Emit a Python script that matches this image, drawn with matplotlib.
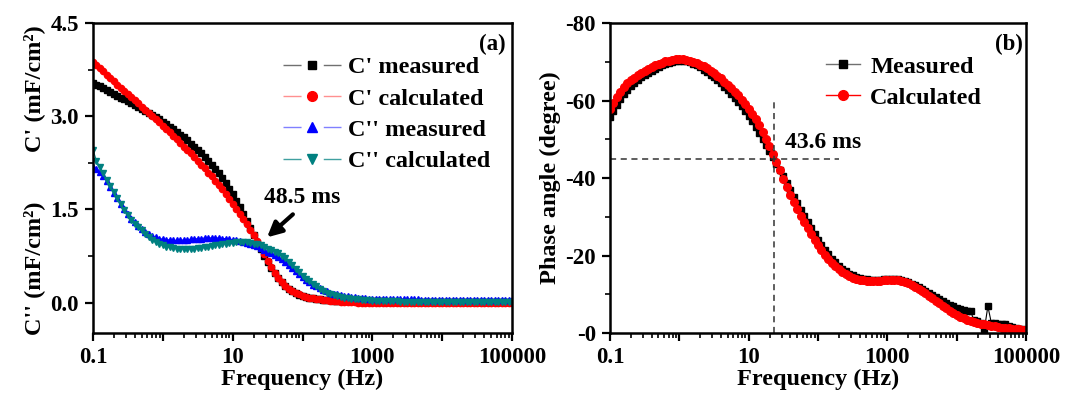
import matplotlib.pyplot as plt
import numpy as np
from matplotlib.lines import Line2D
from matplotlib.ticker import LogLocator, NullFormatter, MultipleLocator

plt.rcParams['font.family'] = ['Liberation Serif', 'DejaVu Serif']
plt.rcParams['font.weight'] = 'bold'
plt.rcParams['axes.labelweight'] = 'bold'

# measurement frequencies, 20 points per decade, 0.1 Hz .. 100 kHz
freq = np.logspace(-1, 5, 121)

# (a) real / imaginary capacitance, mF/cm2
c1_meas = [3.53, 3.51, 3.48, 3.45, 3.42, 3.39, 3.36, 3.33, 3.30, 3.27,
           3.24, 3.21, 3.18, 3.15, 3.12, 3.09, 3.05, 3.02, 2.98, 2.95,
           2.91, 2.87, 2.83, 2.79, 2.75, 2.70, 2.66, 2.61, 2.56, 2.51,
           2.46, 2.40, 2.34, 2.28, 2.22, 2.15, 2.08, 2.00, 1.92, 1.83,
           1.74, 1.64, 1.54, 1.43, 1.32, 1.20, 1.08, 0.96, 0.86, 0.75,
           0.65, 0.56, 0.47, 0.40, 0.33, 0.27, 0.22, 0.18, 0.15, 0.12,
           0.10, 0.09, 0.08, 0.07, 0.06, 0.05, 0.045, 0.04, 0.035, 0.03,
           0.03, 0.03, 0.025, 0.025, 0.025, 0.02, 0.02, 0.02, 0.02, 0.02,
           0.02, 0.02, 0.02, 0.02, 0.015, 0.015, 0.015, 0.015, 0.015, 0.015,
           0.015, 0.015, 0.01, 0.01, 0.01, 0.01, 0.01, 0.01, 0.01, 0.01,
           0.01, 0.01, 0.01, 0.01, 0.01, 0.01, 0.01, 0.01, 0.01, 0.01,
           0.01, 0.01, 0.01, 0.01, 0.01, 0.01, 0.01, 0.01, 0.01, 0.01,
           0.01]
c1_calc = [3.87, 3.82, 3.77, 3.72, 3.67, 3.62, 3.56, 3.51, 3.46, 3.41,
           3.36, 3.31, 3.26, 3.21, 3.15, 3.10, 3.05, 3.00, 2.95, 2.90,
           2.85, 2.79, 2.74, 2.68, 2.63, 2.57, 2.51, 2.46, 2.40, 2.34,
           2.28, 2.22, 2.16, 2.09, 2.03, 1.96, 1.89, 1.82, 1.75, 1.67,
           1.58, 1.50, 1.42, 1.34, 1.26, 1.17, 1.08, 0.99, 0.89, 0.78,
           0.67, 0.57, 0.48, 0.40, 0.33, 0.27, 0.22, 0.18, 0.15, 0.13,
           0.11, 0.09, 0.08, 0.07, 0.06, 0.05, 0.04, 0.035, 0.03, 0.025,
           0.02, 0.015, 0.01, 0.01, 0.005, 0.005, 0.0, 0.0, 0.0, 0.0,
           0.0, 0.0, 0.0, 0.0, 0.0, 0.0, 0.0, 0.0, 0.0, 0.0,
           -0.005, -0.005, -0.005, -0.005, -0.005, -0.005, -0.005, -0.005, -0.005, -0.005,
           -0.01, -0.01, -0.01, -0.01, -0.01, -0.01, -0.01, -0.01, -0.01, -0.01,
           -0.01, -0.01, -0.01, -0.01, -0.01, -0.01, -0.01, -0.01, -0.01, -0.01,
           -0.01]
c2_meas = [2.19, 2.15, 2.10, 2.03, 1.95, 1.86, 1.77, 1.68, 1.59, 1.50,
           1.42, 1.35, 1.29, 1.23, 1.18, 1.14, 1.10, 1.07, 1.05, 1.03,
           1.02, 1.01, 1.01, 1.00, 1.00, 1.00, 1.01, 1.01, 1.02, 1.02,
           1.03, 1.03, 1.04, 1.04, 1.04, 1.04, 1.04, 1.03, 1.03, 1.02,
           1.01, 1.00, 0.99, 0.98, 0.96, 0.94, 0.93, 0.91, 0.88, 0.85,
           0.82, 0.79, 0.76, 0.73, 0.70, 0.66, 0.61, 0.56, 0.51, 0.46,
           0.41, 0.37, 0.33, 0.29, 0.26, 0.23, 0.20, 0.18, 0.16, 0.14,
           0.13, 0.12, 0.11, 0.10, 0.09, 0.085, 0.08, 0.075, 0.07, 0.065,
           0.06, 0.06, 0.06, 0.055, 0.055, 0.055, 0.055, 0.05, 0.05, 0.05,
           0.05, 0.05, 0.05, 0.05, 0.045, 0.045, 0.045, 0.045, 0.045, 0.045,
           0.045, 0.045, 0.04, 0.04, 0.04, 0.04, 0.04, 0.04, 0.04, 0.04,
           0.04, 0.04, 0.04, 0.04, 0.04, 0.04, 0.04, 0.04, 0.04, 0.04,
           0.04]
c2_calc = [2.46, 2.28, 2.18, 2.08, 1.98, 1.88, 1.78, 1.68, 1.58, 1.49,
           1.41, 1.33, 1.27, 1.21, 1.16, 1.11, 1.06, 1.01, 0.97, 0.94,
           0.92, 0.90, 0.89, 0.88, 0.87, 0.87, 0.87, 0.87, 0.87, 0.87,
           0.88, 0.88, 0.89, 0.90, 0.91, 0.92, 0.93, 0.94, 0.95, 0.96,
           0.96, 0.97, 0.97, 0.97, 0.97, 0.96, 0.95, 0.94, 0.92, 0.90,
           0.87, 0.85, 0.82, 0.79, 0.75, 0.71, 0.66, 0.60, 0.54, 0.49,
           0.43, 0.38, 0.34, 0.30, 0.26, 0.22, 0.19, 0.16, 0.14, 0.12,
           0.10, 0.09, 0.08, 0.07, 0.06, 0.055, 0.05, 0.045, 0.04, 0.035,
           0.03, 0.03, 0.025, 0.025, 0.02, 0.02, 0.02, 0.02, 0.015, 0.015,
           0.015, 0.015, 0.015, 0.01, 0.01, 0.01, 0.01, 0.01, 0.01, 0.01,
           0.01, 0.01, 0.005, 0.005, 0.005, 0.005, 0.005, 0.005, 0.005, 0.005,
           0.005, 0.005, 0.005, 0.005, 0.005, 0.005, 0.005, 0.005, 0.005, 0.005,
           0.005]

# (b) phase angle, degree
phase_meas = [-55.8, -57.4, -58.9, -60.3, -61.7, -62.8, -63.8, -64.6, -65.3, -66.0,
              -66.6, -67.2, -67.7, -68.2, -68.7, -69.1, -69.5, -69.8, -70.0, -70.2,
              -70.3, -70.3, -70.1, -69.9, -69.5, -69.1, -68.6, -68.0, -67.4, -66.7,
              -66.0, -65.2, -64.4, -63.5, -62.6, -61.6, -60.6, -59.6, -58.5, -57.3,
              -56.0, -54.6, -53.1, -51.6, -50.0, -48.4, -46.9, -45.3, -43.7, -42.1,
              -40.5, -38.8, -37.0, -35.2, -33.5, -31.8, -30.2, -28.6, -27.0, -25.5,
              -24.1, -22.8, -21.5, -20.3, -19.2, -18.2, -17.3, -16.5, -15.9, -15.3,
              -14.9, -14.5, -14.2, -14.0, -13.9, -13.8, -13.8, -13.8, -13.8, -13.9,
              -14.0, -14.0, -14.0, -13.9, -13.7, -13.4, -13.1, -12.7, -12.3, -11.9,
              -11.4, -10.9, -10.4, -9.9, -9.4, -8.8, -8.3, -7.8, -7.3, -6.9,
              -6.5, -6.2, -5.9, -5.7, -5.6, -3.3, -3.0, -2.7, -1.0, -6.9,
              -2.6, -2.5, -2.4, -2.3, -2.2, -1.8, -1.5, -1.3, -1.1, -1.0,
              -0.9]
phase_calc = [-57.8, -59.3, -60.8, -62.1, -63.5, -64.4, -65.2, -65.9, -66.5, -67.1,
              -67.6, -68.1, -68.6, -69.1, -69.5, -69.8, -70.1, -70.3, -70.5, -70.6,
              -70.6, -70.6, -70.4, -70.2, -69.9, -69.6, -69.2, -68.8, -68.3, -67.7,
              -67.1, -66.4, -65.7, -64.9, -64.1, -63.2, -62.3, -61.3, -60.2, -59.0,
              -57.8, -56.5, -55.1, -53.6, -51.9, -50.1, -48.2, -46.2, -44.1, -42.0,
              -39.8, -37.6, -35.7, -33.8, -32.0, -30.3, -28.6, -27.0, -25.5, -24.1,
              -22.7, -21.4, -20.2, -19.1, -18.1, -17.2, -16.4, -15.8, -15.2, -14.7,
              -14.3, -14.0, -13.8, -13.6, -13.5, -13.4, -13.4, -13.4, -13.5, -13.6,
              -13.7, -13.8, -13.8, -13.7, -13.5, -13.2, -12.8, -12.4, -11.9, -11.3,
              -10.8, -10.2, -9.6, -9.0, -8.3, -7.7, -7.0, -6.4, -5.8, -5.2,
              -4.7, -4.2, -3.8, -3.4, -3.1, -2.8, -2.6, -2.4, -2.2, -2.0,
              -1.8, -1.7, -1.5, -1.4, -1.3, -1.2, -1.1, -1.0, -1.0, -0.9,
              -0.9]

tau_ms = 43.6  # characteristic time constant in (b)

dec_ticks = [0.1, 1, 10, 100, 1000, 1e4, 1e5]
dec_labels = ['0.1', '', '10', '', '1000', '', '100000']

fig = plt.figure(figsize=(10.67, 3.95), dpi=100)
ax1 = fig.add_axes([93/1067, 1-333/395, 419/1067, 310/395])
ax2 = fig.add_axes([610/1067, 1-333/395, 416/1067, 310/395])


def style(ax):
    ax.set_xscale('log')
    ax.set_xlim(0.1, 1e5)
    ax.set_xticks(dec_ticks)
    ax.set_xticklabels(dec_labels)
    ax.xaxis.set_minor_locator(LogLocator(base=10, subs=np.arange(2, 10), numticks=30))
    ax.xaxis.set_minor_formatter(NullFormatter())
    ax.tick_params(which='major', direction='out', length=6, width=1.6, labelsize=16.5, pad=4)
    ax.tick_params(which='minor', direction='out', length=3.5, width=1.2)
    for s in ax.spines.values():
        s.set_linewidth(1.8)
    ax.set_xlabel('Frequency (Hz)', fontsize=17.5, labelpad=1)


# ---- (a)
style(ax1)
ax1.plot(freq, c1_meas, color='black', lw=0.8, marker='s', ms=4, mec='black', mfc='black')
ax1.plot(freq, c1_calc, color='red', lw=0.8, marker='o', ms=4.5, mec='red', mfc='red')
ax1.plot(freq, c2_meas, color='blue', lw=0.8, marker='^', ms=4.5, mec='blue', mfc='blue')
ax1.plot(freq, c2_calc, color='#008080', lw=0.8, marker='v', ms=4.5, mec='#008080', mfc='#008080')
ax1.set_ylim(-0.49, 4.5)
ax1.set_yticks([0, 1.5, 3.0, 4.5])
ax1.set_yticklabels(['0.0', '1.5', '3.0', '4.5'])
ax1.yaxis.set_minor_locator(MultipleLocator(0.75))

ax1.annotate('', xy=(29, 1.02), xytext=(78, 1.45),
             arrowprops=dict(arrowstyle='-|>', lw=3, color='black', mutation_scale=22))
ax1.text(98, 1.69, '48.5 ms', fontsize=17, ha='center', va='center')
ax1.text(0.952, 0.93, '(a)', transform=ax1.transAxes, fontsize=16.5, ha='center', va='center')

# legend handles: thin line with a gap, marker in the gap
leg_lines = [('#707070', 'black', 's', 6), ('#ff9090', 'red', 'o', 7),
             ('#8080ff', 'blue', '^', 7), ('#40a0a0', '#008080', 'v', 7)]
h1 = []
for lc, mc, mk, ms in leg_lines:
    ln = Line2D([], [], color=lc, lw=1, dashes=(13, 16))
    mkh = Line2D([], [], ls='none', marker=mk, ms=ms, mfc=mc, mec=mc)
    h1.append((ln, mkh))
ax1.legend(h1, ["C' measured", "C' calculated", "C'' measured", "C'' calculated"],
           loc='upper left', bbox_to_anchor=(0.453, 0.892), frameon=False, fontsize=17.5,
           borderpad=0, borderaxespad=0, handlelength=2.4, handletextpad=0.3,
           labelspacing=0.38)

fig.text(34/1067, 1-89/395, "C' (mF/cm²)", rotation=90, fontsize=17.5, ha='center', va='center')
fig.text(34/1067, 1-268/395, "C'' (mF/cm²)", rotation=90, fontsize=17.5, ha='center', va='center')

# ---- (b)
style(ax2)
ax2.plot(freq, phase_meas, color='black', lw=0.8, marker='s', ms=4.5, mec='black', mfc='black')
ax2.plot(freq, phase_calc, color='red', lw=0.8, marker='o', ms=5.5, mec='red', mfc='red')
ax2.set_ylim(0, -80)
ax2.set_yticks([-80, -60, -40, -20, 0])
ax2.set_yticklabels(['-80', '-60', '-40', '-20', '-0'])
ax2.yaxis.set_minor_locator(MultipleLocator(10))
ax2.set_ylabel('Phase angle (degree)', fontsize=17.5, labelpad=3)

f_tau = 1000.0 / tau_ms
ax2.plot([f_tau, f_tau], [0, -60.5], color='#333333', lw=1.1, dashes=(4, 3))
ax2.plot([0.1, 200], [-45, -45], color='#333333', lw=1.1, dashes=(4, 3))
ax2.text(33.5, -49.2, '43.6 ms', fontsize=17, ha='left', va='center')
ax2.text(0.96, 0.93, '(b)', transform=ax2.transAxes, fontsize=16.5, ha='center', va='center')

h2 = [Line2D([], [], color='#707070', lw=1, marker='s', ms=6, mfc='black', mec='black'),
      Line2D([], [], color='red', lw=1, marker='o', ms=7, mfc='red', mec='red')]
ax2.legend(h2, ['Measured', 'Calculated'], loc='upper left', bbox_to_anchor=(0.52, 0.895),
           frameon=False, fontsize=17.5, borderpad=0, borderaxespad=0, handlelength=1.4,
           handletextpad=0.4, labelspacing=0.38)

fig.savefig('out.png', dpi=100)
